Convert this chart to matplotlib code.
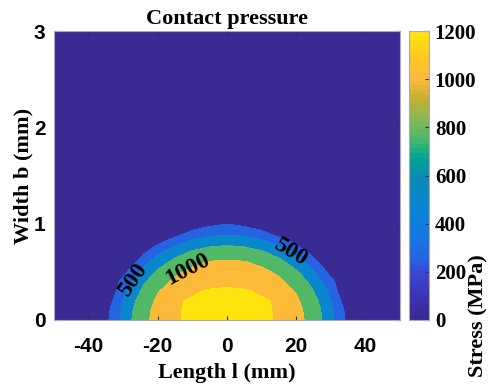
import numpy as np
import matplotlib.pyplot as plt
from matplotlib.colors import LinearSegmentedColormap, Normalize
from matplotlib.cm import ScalarMappable

plt.rcParams['axes.unicode_minus'] = False

# Contact pressure (MPa) on one half of the contact, x >= 0 (mirrored below)
half_l = [0, 5, 10, 15, 20, 24, 28, 31, 34, 37]          # mm
width_b = [0.0, 0.1, 0.2, 0.3, 0.4, 0.5, 0.6, 0.7, 0.8, 0.9, 1.0, 1.1]  # mm
pressure = [
    [1340, 1304, 1269, 1240, 1070, 950, 720, 491, 257, 0],
    [1315, 1296, 1268, 1238, 1060, 935, 700, 476, 236, 0],
    [1290, 1279, 1265, 1235, 1035, 890, 650, 431, 150, 0],
    [1272, 1265, 1230, 1110, 985, 810, 570, 357, 10, 0],
    [1214, 1191, 1130, 1043, 889, 714, 468, 257, 0, 0],
    [1122, 1104, 1053, 957, 784, 582, 335, 9, 0, 0],
    [1031, 1015, 946, 822, 631, 423, 106, 0, 0, 0],
    [886, 861, 790, 651, 444, 221, 0, 0, 0, 0],
    [701, 671, 582, 434, 204, 0, 0, 0, 0, 0],
    [456, 425, 335, 128, 0, 0, 0, 0, 0, 0],
    [240, 180, 60, 0, 0, 0, 0, 0, 0, 0],
    [0, 0, 0, 0, 0, 0, 0, 0, 0, 0],
]
levels = [0, 250, 500, 750, 1000, 1250, 1500]
label_levels = [500, 1000]
cbar_ticks = [0, 200, 400, 600, 800, 1000, 1200]

# full grid: mirror about l = 0 and pad out to the plot edges
P = np.array(pressure, dtype=float)
P = np.hstack([P[:, :0:-1], P])
P = np.pad(P, ((0, 1), (1, 1)))
l = np.array(half_l, dtype=float)
l = np.concatenate([[-50], -l[:0:-1], l, [50]])
b = np.array(width_b + [3.0])
L, B = np.meshgrid(l, b)

# parula-like colormap
cpos = [0, 100, 200, 250, 350, 450, 500, 600, 680, 750, 850, 920, 1000, 1100, 1200]
chex = ['#392a94', '#3c34b8', '#3a4ad8', '#2464e2', '#1478e4', '#0884d6', '#0a86cc',
        '#0a8cb4', '#00a890', '#48b86a', '#90b850', '#c0b032', '#fbb83a', '#ffc820',
        '#fce40c']
cmap = LinearSegmentedColormap.from_list('parula_like',
                                         [(p / 1200, c) for p, c in zip(cpos, chex)], N=64)
norm = Normalize(0, 1200, clip=True)
band_colors = [cmap(norm(v)) for v in levels[:-1]]

serif = 'Liberation Serif'
sans = 'Liberation Sans'

fig = plt.figure(figsize=(4.9, 3.85), dpi=100)
ax = fig.add_axes([0.110, 0.169, 0.706, 0.750])
ax.contourf(L, B, P, levels=levels, colors=band_colors)
cl = ax.contour(L, B, P, levels=label_levels, colors='none')
lab = ax.clabel(cl, fmt='%d', inline=False, colors='k', fontsize=17,
                manual=[(-27, 0.42), (-11, 0.49), (18, 0.67)])
for t in lab:
    t.set_fontfamily(serif)
    t.set_fontweight('bold')

ax.set_xlim(-50, 50)
ax.set_ylim(0, 3)
ax.set_xticks([-40, -20, 0, 20, 40])
ax.set_yticks([0, 1, 2, 3])
ax.tick_params(direction='in', length=3, top=True, right=True, color='#333333',
               labelsize=15)
ax.tick_params(axis='x', pad=12)
ax.tick_params(axis='y', pad=6)
for t in ax.get_xticklabels() + ax.get_yticklabels():
    t.set_fontfamily(sans)
    t.set_fontweight('bold')
for s in ax.spines.values():
    s.set_color('#aaaaaa')
    s.set_linewidth(0.8)

ax.set_title('Contact pressure', fontfamily=serif, fontweight='bold', fontsize=16, pad=5)
ax.set_xlabel('Length l (mm)', fontfamily=serif, fontweight='bold', fontsize=16, labelpad=5)
ax.set_ylabel('Width b (mm)', fontfamily=serif, fontweight='bold', fontsize=16, labelpad=0)

cax = fig.add_axes([0.835, 0.169, 0.041, 0.750])
cb = fig.colorbar(ScalarMappable(norm=norm, cmap=cmap), cax=cax, ticks=cbar_ticks)
cb.outline.set_edgecolor('#aaaaaa')
cb.outline.set_linewidth(0.8)
cax.tick_params(direction='in', length=3, color='#333333', labelsize=15, pad=4)
for t in cax.get_yticklabels():
    t.set_fontfamily(serif)
    t.set_fontweight('bold')
fig.text(0.976, 1 - 316 / 385, 'Stress (MPa)', rotation=90, ha='center', va='center',
         fontfamily=serif, fontweight='bold', fontsize=16)

fig.savefig('out.png', dpi=100)
